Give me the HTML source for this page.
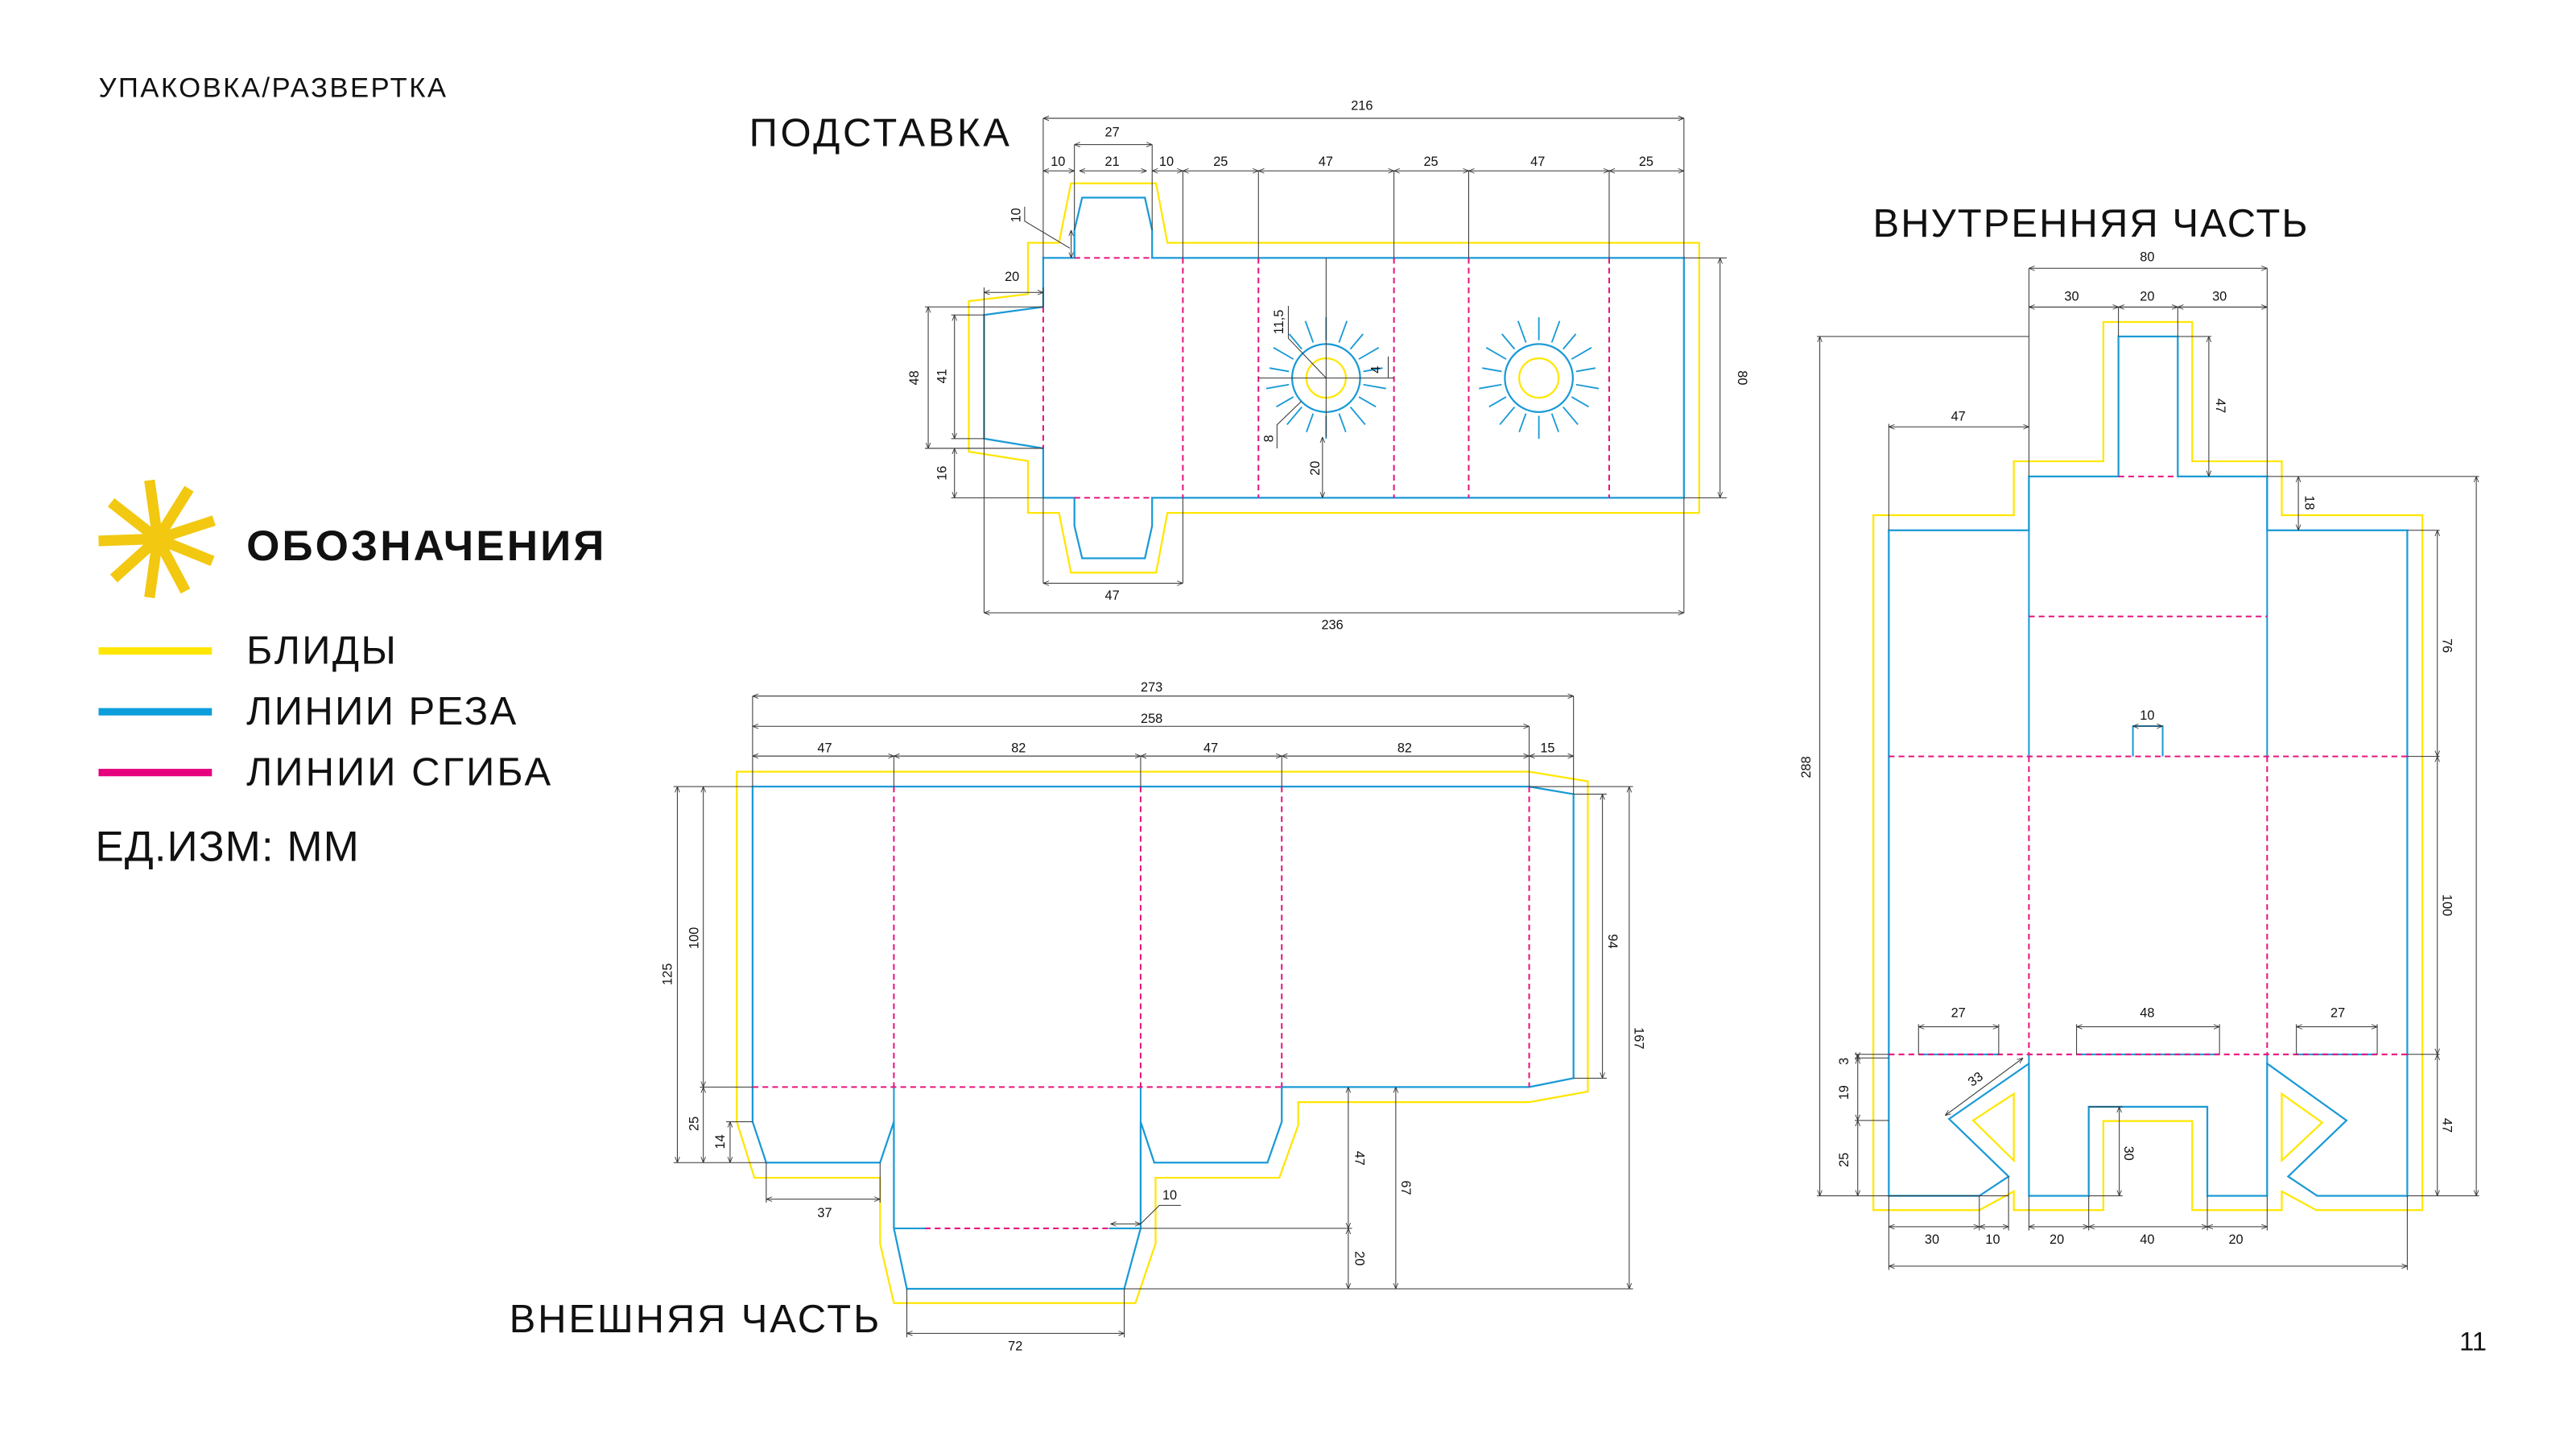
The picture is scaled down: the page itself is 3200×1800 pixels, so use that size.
<!DOCTYPE html>
<html><head><meta charset="utf-8"><style>
html,body{margin:0;padding:0;background:#fff;}
svg{display:block;}
text{font-family:"Liberation Sans",sans-serif;fill:#111;}
.b{fill:none;stroke:#1a9ad6;stroke-width:1.1;}
.y{fill:none;stroke:#ffe600;stroke-width:1.1;}
.m{fill:none;stroke:#e6157e;stroke-width:1;stroke-dasharray:3.5 2.5;}
.d{fill:none;stroke:#333;stroke-width:0.5;}
.da{fill:none;stroke:#333;stroke-width:0.5;marker-start:url(#ar);marker-end:url(#ar);}
.t{font-size:8px;text-anchor:middle;}
</style></head><body>
<svg width="3200" height="1800" viewBox="0 0 1568 882" xmlns="http://www.w3.org/2000/svg">
<defs>
<marker id="ar" viewBox="0 0 10 10" refX="10" refY="5" markerWidth="3.5" markerHeight="3.5" orient="auto-start-reverse" markerUnits="userSpaceOnUse"><path d="M0,1 L10,5 L0,9" fill="none" stroke="#333" stroke-width="1.2"/></marker>
</defs>

<!-- Headings -->
<text x="60" y="59" style="font-size:17px;letter-spacing:1.2px">УПАКОВКА/РАЗВЕРТКА</text>
<text x="456" y="89" style="font-size:24px;letter-spacing:1.8px">ПОДСТАВКА</text>
<text x="1140" y="144" style="font-size:24px;letter-spacing:1px">ВНУТРЕННЯЯ ЧАСТЬ</text>
<text x="310" y="811" style="font-size:24px;letter-spacing:1.4px">ВНЕШНЯЯ ЧАСТЬ</text>
<text x="1497" y="822" style="font-size:16px">11</text>

<!-- Legend -->
<g stroke="#f2c811" stroke-width="6.5" stroke-linecap="butt" transform="translate(96,328)">
<line x1="0" y1="0" x2="0" y2="-36" transform="rotate(-8)"/>
<line x1="0" y1="0" x2="0" y2="-36" transform="rotate(32)"/>
<line x1="0" y1="0" x2="0" y2="-36" transform="rotate(72)"/>
<line x1="0" y1="0" x2="0" y2="-36" transform="rotate(112)"/>
<line x1="0" y1="0" x2="0" y2="-36" transform="rotate(152)"/>
<line x1="0" y1="0" x2="0" y2="-36" transform="rotate(188)"/>
<line x1="0" y1="0" x2="0" y2="-36" transform="rotate(228)"/>
<line x1="0" y1="0" x2="0" y2="-36" transform="rotate(268)"/>
<line x1="0" y1="0" x2="0" y2="-36" transform="rotate(308)"/>
</g>
<text x="150" y="341" style="font-size:26px;font-weight:bold;letter-spacing:1.5px">ОБОЗНАЧЕНИЯ</text>
<rect x="60" y="394" width="69" height="4.5" fill="#ffe600"/>
<rect x="60" y="431" width="69" height="4.5" fill="#0d9ddb"/>
<rect x="60" y="468" width="69" height="4.5" fill="#e6007e"/>
<text x="150" y="404" style="font-size:24px;letter-spacing:1.2px">БЛИДЫ</text>
<text x="150" y="441" style="font-size:24px;letter-spacing:1.2px">ЛИНИИ РЕЗА</text>
<text x="150" y="478" style="font-size:24px;letter-spacing:1.5px">ЛИНИИ СГИБА</text>
<text x="58" y="524" style="font-size:26px;letter-spacing:0.5px">ЕД.ИЗМ: ММ</text>

<!-- ================= ПОДСТАВКА ================= -->
<path class="y" d="M625.7,147.8 L644.6,147.8 L651.9,111.6 L703.7,111.6 L710.6,147.8 L1034.3,147.8 L1034.3,312.2 L710.6,312.2 L703.7,348.6 L651.9,348.6 L644.6,312.2 L625.7,312.2 L625.7,280.6 L589.7,274.9 L589.7,183.3 L625.7,179 Z"/>
<path class="b" d="M654,157 L654,140.1 L658.7,120.3 L696.9,120.3 L701.3,140.1 L701.3,157 L1025,157 L1025,303 L701.3,303 L701.3,320.1 L696.9,339.8 L658.7,339.8 L654,320.1 L654,303 L635,303 L635,272.9 L599,267 L599,191.7 L635,186.8 L635,157 Z"/>
<g class="m">
<line x1="635" y1="186.8" x2="635" y2="272.9"/>
<line x1="654" y1="157" x2="701.3" y2="157"/>
<line x1="654" y1="303" x2="701.3" y2="303"/>
<line x1="720" y1="157" x2="720" y2="303"/>
<line x1="766" y1="157" x2="766" y2="303"/>
<line x1="848.5" y1="157" x2="848.5" y2="303"/>
<line x1="894" y1="157" x2="894" y2="303"/>
<line x1="979.5" y1="157" x2="979.5" y2="303"/>
</g>
<!-- suns -->
<g id="sun1" transform="translate(807.2,230.1)">
<circle class="b" r="20.7"/>
<circle class="y" r="12"/>
<g class="b" style="stroke-width:0.9">
<line x1="0" y1="-23" x2="0" y2="-37"/>
<line x1="0" y1="-23" x2="0" y2="-37" transform="rotate(20)"/>
<line x1="0" y1="-23" x2="0" y2="-35" transform="rotate(40)"/>
<line x1="0" y1="-23" x2="0" y2="-37" transform="rotate(60)"/>
<line x1="0" y1="-23" x2="0" y2="-35" transform="rotate(80)"/>
<line x1="0" y1="-23" x2="0" y2="-37" transform="rotate(100)"/>
<line x1="0" y1="-23" x2="0" y2="-35" transform="rotate(120)"/>
<line x1="0" y1="-23" x2="0" y2="-37" transform="rotate(140)"/>
<line x1="0" y1="-23" x2="0" y2="-35" transform="rotate(160)"/>
<line x1="0" y1="-23" x2="0" y2="-37" transform="rotate(180)"/>
<line x1="0" y1="-23" x2="0" y2="-35" transform="rotate(200)"/>
<line x1="0" y1="-23" x2="0" y2="-37" transform="rotate(220)"/>
<line x1="0" y1="-23" x2="0" y2="-35" transform="rotate(240)"/>
<line x1="0" y1="-23" x2="0" y2="-37" transform="rotate(260)"/>
<line x1="0" y1="-23" x2="0" y2="-35" transform="rotate(280)"/>
<line x1="0" y1="-23" x2="0" y2="-37" transform="rotate(300)"/>
<line x1="0" y1="-23" x2="0" y2="-35" transform="rotate(320)"/>
<line x1="0" y1="-23" x2="0" y2="-37" transform="rotate(340)"/>
</g>
</g>
<use href="#sun1" transform="translate(129.5,0)"/>
<!-- dims podstavka -->
<g class="d">
<line x1="635" y1="72" x2="635" y2="157"/>
<line x1="1025" y1="72" x2="1025" y2="157"/>
<line x1="654" y1="88" x2="654" y2="140"/>
<line x1="701.3" y1="88" x2="701.3" y2="140"/>
<line x1="720" y1="104" x2="720" y2="157"/>
<line x1="766" y1="104" x2="766" y2="157"/>
<line x1="848.5" y1="104" x2="848.5" y2="157"/>
<line x1="894" y1="104" x2="894" y2="157"/>
<line x1="979.5" y1="104" x2="979.5" y2="157"/>
<line x1="1025" y1="157" x2="1051" y2="157"/>
<line x1="1025" y1="303" x2="1051" y2="303"/>
<line x1="599" y1="175" x2="599" y2="373"/>
<line x1="635" y1="175" x2="635" y2="186.8"/>
<line x1="563" y1="186.8" x2="635" y2="186.8"/>
<line x1="563" y1="272.9" x2="635" y2="272.9"/>
<line x1="579" y1="191.7" x2="599" y2="191.7"/>
<line x1="579" y1="267" x2="599" y2="267"/>
<line x1="579" y1="303" x2="635" y2="303"/>
<line x1="635" y1="303" x2="635" y2="355"/>
<line x1="720" y1="303" x2="720" y2="355"/>
<line x1="1025" y1="303" x2="1025" y2="373"/>
<polyline points="651.2,151.1 623.7,134.6 623.7,125.8"/>
<line x1="766" y1="230.1" x2="848.5" y2="230.1"/>
<line x1="807.2" y1="157" x2="807.2" y2="266"/>
<polyline points="807.2,230.1 784.2,205.9 784.2,186.2"/>
<polyline points="792,244.4 777.3,258.6 777.3,272.9"/>
<line x1="845" y1="217" x2="845" y2="230"/>
</g>
<g class="da">
<line x1="635" y1="72" x2="1025" y2="72"/>
<line x1="654" y1="88" x2="701.3" y2="88"/>
<line x1="635" y1="104" x2="654" y2="104"/>
<line x1="657" y1="104" x2="698" y2="104"/>
<line x1="701.3" y1="104" x2="720" y2="104"/>
<line x1="720" y1="104" x2="766" y2="104"/>
<line x1="766" y1="104" x2="848.5" y2="104"/>
<line x1="848.5" y1="104" x2="894" y2="104"/>
<line x1="894" y1="104" x2="979.5" y2="104"/>
<line x1="979.5" y1="104" x2="1025" y2="104"/>
<line x1="1047" y1="157" x2="1047" y2="303"/>
<line x1="599" y1="178" x2="635" y2="178"/>
<line x1="565" y1="186.8" x2="565" y2="272.9"/>
<line x1="581" y1="191.7" x2="581" y2="267"/>
<line x1="581" y1="272.9" x2="581" y2="303"/>
<line x1="652" y1="140.1" x2="652" y2="157"/>
<line x1="635" y1="355" x2="720" y2="355"/>
<line x1="599" y1="373" x2="1025" y2="373"/>
<line x1="805" y1="266" x2="805" y2="303"/>
</g>
<g class="t">
<text x="829" y="67">216</text>
<text x="677" y="83">27</text>
<text x="644" y="101">10</text><text x="677" y="101">21</text><text x="710" y="101">10</text>
<text x="743" y="101">25</text><text x="807" y="101">47</text><text x="871" y="101">25</text>
<text x="936" y="101">47</text><text x="1002" y="101">25</text>
<text x="616" y="171">20</text>
<text x="677" y="365">47</text>
<text x="811" y="383">236</text>
<text transform="translate(1058,230) rotate(90)">80</text>
<text transform="translate(559,230) rotate(-90)">48</text>
<text transform="translate(576,229) rotate(-90)">41</text>
<text transform="translate(576,288) rotate(-90)">16</text>
<text transform="translate(621,131) rotate(-90)">10</text>
<text transform="translate(781,196) rotate(-90)">11,5</text>
<text transform="translate(775,267) rotate(-90)">8</text>
<text transform="translate(803,285) rotate(-90)">20</text>
<text transform="translate(840,225) rotate(-90)">4</text>
</g>

<!-- ================= ВНЕШНЯЯ ЧАСТЬ ================= -->
<path class="y" d="M448.5,469.7 L930.8,469.7 L966.5,475.6 L966.5,664.4 L930.8,670.9 L790.2,670.9 L790.2,685 L778.7,716.9 L703.4,716.9 L703.4,756.9 L691.1,793.2 L544.1,793.2 L535.7,756.9 L535.7,716.9 L459.2,716.9 L448.5,682.8 Z"/>
<path class="b" d="M458.1,478.8 L930.8,478.8 L957.8,483.4 L957.8,656.3 L930.8,661.7 L780.2,661.7 L780.2,682.8 L771.5,707.7 L702.6,707.7 L694.3,682.8 L694.3,747.7 L684.3,784.5 L552,784.5 L544.1,747.7 L544.1,682.8 L535.7,707.7 L466.4,707.7 L458.1,682.8 Z"/>
<g class="b" style="stroke-width:1">
<line x1="544.1" y1="661.7" x2="544.1" y2="682.8"/>
<line x1="694.3" y1="661.7" x2="694.3" y2="682.8"/>
<line x1="544.1" y1="747.7" x2="563" y2="747.7"/>
<line x1="675" y1="747.7" x2="694.3" y2="747.7"/>
</g>
<g class="m">
<line x1="544.1" y1="478.8" x2="544.1" y2="661.7"/>
<line x1="694.3" y1="478.8" x2="694.3" y2="661.7"/>
<line x1="780.2" y1="478.8" x2="780.2" y2="661.7"/>
<line x1="930.8" y1="478.8" x2="930.8" y2="661.7"/>
<line x1="458.1" y1="661.7" x2="780.2" y2="661.7"/>
<line x1="563" y1="747.7" x2="675" y2="747.7"/>
</g>
<g class="d">
<line x1="458.1" y1="423.7" x2="458.1" y2="478.8"/>
<line x1="957.8" y1="423.7" x2="957.8" y2="483.4"/>
<line x1="930.8" y1="442.1" x2="930.8" y2="478.8"/>
<line x1="544.1" y1="460.2" x2="544.1" y2="478.8"/>
<line x1="694.3" y1="460.2" x2="694.3" y2="478.8"/>
<line x1="780.2" y1="460.2" x2="780.2" y2="478.8"/>
<line x1="410" y1="478.8" x2="458.1" y2="478.8"/>
<line x1="410" y1="707.7" x2="466.4" y2="707.7"/>
<line x1="426" y1="661.7" x2="458.1" y2="661.7"/>
<line x1="442" y1="682.8" x2="458.1" y2="682.8"/>
<line x1="466.4" y1="707.7" x2="466.4" y2="732"/>
<line x1="535.7" y1="707.7" x2="535.7" y2="732"/>
<line x1="552" y1="784.5" x2="552" y2="814"/>
<line x1="684.3" y1="784.5" x2="684.3" y2="814"/>
<line x1="694.3" y1="747.7" x2="823" y2="747.7"/>
<line x1="684.3" y1="784.5" x2="994" y2="784.5"/>
<line x1="930.8" y1="478.8" x2="994" y2="478.8"/>
<line x1="957.8" y1="483.4" x2="978" y2="483.4"/>
<line x1="957.8" y1="656.3" x2="978" y2="656.3"/>
<polyline points="694.3,745 705.7,733.7 718.8,733.7"/>
</g>
<g class="da">
<line x1="458.1" y1="423.7" x2="957.8" y2="423.7"/>
<line x1="458.1" y1="442.1" x2="930.8" y2="442.1"/>
<line x1="458.1" y1="460.2" x2="544.1" y2="460.2"/>
<line x1="544.1" y1="460.2" x2="694.3" y2="460.2"/>
<line x1="694.3" y1="460.2" x2="780.2" y2="460.2"/>
<line x1="780.2" y1="460.2" x2="930.8" y2="460.2"/>
<line x1="930.8" y1="460.2" x2="957.8" y2="460.2"/>
<line x1="412.3" y1="478.8" x2="412.3" y2="707.7"/>
<line x1="428.1" y1="478.8" x2="428.1" y2="661.7"/>
<line x1="428.1" y1="661.7" x2="428.1" y2="707.7"/>
<line x1="444.4" y1="682.8" x2="444.4" y2="707.7"/>
<line x1="466.4" y1="729.9" x2="535.7" y2="729.9"/>
<line x1="552" y1="811.6" x2="684.3" y2="811.6"/>
<line x1="676" y1="745" x2="694.3" y2="745"/>
<line x1="820.7" y1="661.7" x2="820.7" y2="747.7"/>
<line x1="820.7" y1="747.7" x2="820.7" y2="784.5"/>
<line x1="849.6" y1="661.7" x2="849.6" y2="784.5"/>
<line x1="991.7" y1="478.8" x2="991.7" y2="784.5"/>
<line x1="975.4" y1="483.4" x2="975.4" y2="656.3"/>
</g>
<g class="t">
<text x="701" y="421">273</text>
<text x="701" y="440">258</text>
<text x="502" y="458">47</text><text x="620" y="458">82</text><text x="737" y="458">47</text>
<text x="855" y="458">82</text><text x="942" y="458">15</text>
<text x="502" y="741">37</text>
<text x="618" y="822">72</text>
<text x="712" y="730">10</text>
<text transform="translate(409,593) rotate(-90)">125</text>
<text transform="translate(425,571) rotate(-90)">100</text>
<text transform="translate(425,684) rotate(-90)">25</text>
<text transform="translate(441,695) rotate(-90)">14</text>
<text transform="translate(825,705) rotate(90)">47</text>
<text transform="translate(825,766) rotate(90)">20</text>
<text transform="translate(853,723) rotate(90)">67</text>
<text transform="translate(995,632) rotate(90)">167</text>
<text transform="translate(979,573) rotate(90)">94</text>
</g>

<!-- ================= ВНУТРЕННЯЯ ЧАСТЬ ================= -->
<path class="y" d="M1140.3,313.6 L1225.8,313.6 L1225.8,280.8 L1280.3,280.8 L1280.3,196 L1334.4,196 L1334.4,280.8 L1388.9,280.8 L1388.9,313.6 L1474.5,313.6 L1474.5,736.6 L1409.9,736.6 L1388.9,725.2 L1388.9,736.6 L1334.4,736.6 L1334.4,682.4 L1280.3,682.4 L1280.3,736.6 L1225.8,736.6 L1225.8,725.2 L1204.8,736.6 L1140.3,736.6 Z"/>
<path class="y" d="M1201,682 L1225.8,665.8 L1225.8,706.4 Z"/>
<path class="y" d="M1388.9,665.8 L1413.5,683.3 L1388.9,706.4 Z"/>
<path class="b" d="M1235,290 L1289.5,290 L1289.5,204.8 L1325.6,204.8 L1325.6,290 L1380,290 L1380,322.8 L1465.3,322.8 L1465.3,727.9 L1410.5,727.9 L1392.8,716.1 L1428.3,682 L1380,647.4 L1380,727.9 L1343.6,727.9 L1343.6,673.7 L1271.4,673.7 L1271.4,727.9 L1235,727.9 L1235,647.4 L1186.4,681.1 L1222.6,716.1 L1204.8,727.9 L1149.7,727.9 L1149.7,322.8 L1235,322.8 Z"/>
<g class="b" style="stroke-width:1">
<line x1="1235" y1="290" x2="1235" y2="460.4"/>
<line x1="1380" y1="290" x2="1380" y2="460.4"/>
<line x1="1235" y1="641.8" x2="1235" y2="647.4"/>
<line x1="1380" y1="641.8" x2="1380" y2="647.4"/>
<polyline points="1298.3,460.4 1298.3,442 1316.4,442 1316.4,460.4"/>
<line x1="1167.8" y1="641.8" x2="1216.6" y2="641.8"/>
<line x1="1264" y1="641.8" x2="1351" y2="641.8"/>
<line x1="1397.8" y1="641.8" x2="1447" y2="641.8"/>
</g>
<g class="m">
<line x1="1289.5" y1="290" x2="1325.6" y2="290"/>
<line x1="1235" y1="375.2" x2="1380" y2="375.2"/>
<line x1="1149.7" y1="460.4" x2="1465.3" y2="460.4"/>
<line x1="1149.7" y1="641.8" x2="1465.3" y2="641.8"/>
<line x1="1235" y1="460.4" x2="1235" y2="641.8"/>
<line x1="1380" y1="460.4" x2="1380" y2="641.8"/>
</g>
<g class="d">
<line x1="1235" y1="163.3" x2="1235" y2="290"/>
<line x1="1380" y1="163.3" x2="1380" y2="290"/>
<line x1="1289.5" y1="186.9" x2="1289.5" y2="204.8"/>
<line x1="1325.6" y1="186.9" x2="1325.6" y2="204.8"/>
<line x1="1106" y1="204.8" x2="1235" y2="204.8"/>
<line x1="1325.6" y1="204.8" x2="1346" y2="204.8"/>
<line x1="1106" y1="727.9" x2="1222.6" y2="727.9"/>
<line x1="1149.7" y1="258" x2="1149.7" y2="322.8"/>
<line x1="1380" y1="290" x2="1509" y2="290"/>
<line x1="1465.3" y1="322.8" x2="1485" y2="322.8"/>
<line x1="1465.3" y1="460.4" x2="1485" y2="460.4"/>
<line x1="1465.3" y1="641.8" x2="1485" y2="641.8"/>
<line x1="1465.3" y1="727.9" x2="1509" y2="727.9"/>
<line x1="1129" y1="641.8" x2="1149.7" y2="641.8"/>
<line x1="1129" y1="644" x2="1149.7" y2="644"/>
<line x1="1129" y1="682" x2="1149.7" y2="682"/>
<line x1="1167.8" y1="623.4" x2="1167.8" y2="641.8"/>
<line x1="1216.6" y1="623.4" x2="1216.6" y2="641.8"/>
<line x1="1264" y1="623.4" x2="1264" y2="641.8"/>
<line x1="1351" y1="623.4" x2="1351" y2="641.8"/>
<line x1="1397.8" y1="623.4" x2="1397.8" y2="641.8"/>
<line x1="1447" y1="623.4" x2="1447" y2="641.8"/>
<line x1="1298.3" y1="442" x2="1316.4" y2="442"/>
<line x1="1271.4" y1="673.7" x2="1292" y2="673.7"/>
<line x1="1271.4" y1="727.9" x2="1292" y2="727.9"/>
<line x1="1149.7" y1="727.9" x2="1149.7" y2="773"/>
<line x1="1204.8" y1="727.9" x2="1204.8" y2="749"/>
<line x1="1222.6" y1="716.1" x2="1222.6" y2="749"/>
<line x1="1235" y1="727.9" x2="1235" y2="749"/>
<line x1="1271.4" y1="727.9" x2="1271.4" y2="749"/>
<line x1="1343.6" y1="727.9" x2="1343.6" y2="749"/>
<line x1="1380" y1="727.9" x2="1380" y2="749"/>
<line x1="1465.3" y1="727.9" x2="1465.3" y2="773"/>
</g>
<g class="da">
<line x1="1235" y1="163.3" x2="1380" y2="163.3"/>
<line x1="1235" y1="186.9" x2="1289.5" y2="186.9"/>
<line x1="1289.5" y1="186.9" x2="1325.6" y2="186.9"/>
<line x1="1325.6" y1="186.9" x2="1380" y2="186.9"/>
<line x1="1107.7" y1="204.8" x2="1107.7" y2="727.9"/>
<line x1="1149.7" y1="259.8" x2="1235" y2="259.8"/>
<line x1="1344.5" y1="204.8" x2="1344.5" y2="290"/>
<line x1="1399" y1="290" x2="1399" y2="322.8"/>
<line x1="1507.3" y1="290" x2="1507.3" y2="727.9"/>
<line x1="1483.6" y1="322.8" x2="1483.6" y2="460.4"/>
<line x1="1483.6" y1="460.4" x2="1483.6" y2="641.8"/>
<line x1="1483.6" y1="641.8" x2="1483.6" y2="727.9"/>
<line x1="1130.8" y1="641.8" x2="1130.8" y2="644"/>
<line x1="1130.8" y1="644" x2="1130.8" y2="682"/>
<line x1="1130.8" y1="682" x2="1130.8" y2="727.9"/>
<line x1="1184" y1="679" x2="1231.4" y2="644"/>
<line x1="1290" y1="673.7" x2="1290" y2="727.9"/>
<line x1="1167.8" y1="625" x2="1216.6" y2="625"/>
<line x1="1264" y1="625" x2="1351" y2="625"/>
<line x1="1397.8" y1="625" x2="1447" y2="625"/>
<line x1="1298.3" y1="442" x2="1316.4" y2="442"/>
<line x1="1149.7" y1="746.7" x2="1204.8" y2="746.7"/>
<line x1="1204.8" y1="746.7" x2="1222.6" y2="746.7"/>
<line x1="1235" y1="746.7" x2="1271.4" y2="746.7"/>
<line x1="1271.4" y1="746.7" x2="1343.6" y2="746.7"/>
<line x1="1343.6" y1="746.7" x2="1380" y2="746.7"/>
<line x1="1149.7" y1="770.7" x2="1465.3" y2="770.7"/>
</g>
<g class="t">
<text x="1307" y="159">80</text>
<text x="1261" y="183">30</text><text x="1307" y="183">20</text><text x="1351" y="183">30</text>
<text x="1192" y="256">47</text>
<text x="1307" y="438">10</text>
<text x="1192" y="619">27</text><text x="1307" y="619">48</text><text x="1423" y="619">27</text>
<text x="1176" y="757">30</text><text x="1213" y="757">10</text><text x="1252" y="757">20</text>
<text x="1307" y="757">40</text><text x="1361" y="757">20</text>
<text transform="translate(1102,467) rotate(-90)">288</text>
<text transform="translate(1349,247) rotate(90)">47</text>
<text transform="translate(1403,306) rotate(90)">18</text>
<text transform="translate(1487,393) rotate(90)">76</text>
<text transform="translate(1487,551) rotate(90)">100</text>
<text transform="translate(1487,685) rotate(90)">47</text>
<text transform="translate(1293,702) rotate(90)">30</text>
<text transform="translate(1125,646) rotate(-90)">3</text>
<text transform="translate(1125,665) rotate(-90)">19</text>
<text transform="translate(1125,706) rotate(-90)">25</text>
<text transform="translate(1204,659) rotate(-36)">33</text>
</g>
</svg>
</body></html>
